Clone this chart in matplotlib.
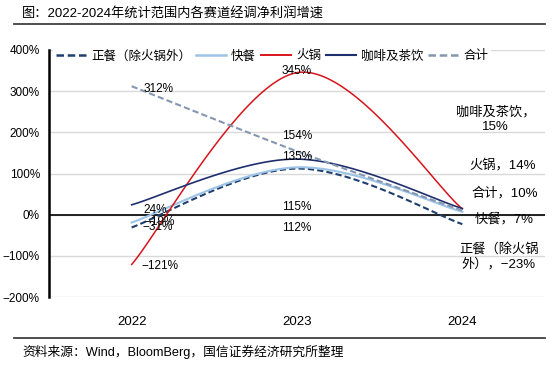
import numpy as np
import matplotlib.pyplot as plt
from matplotlib.lines import Line2D

plt.rcParams['font.family'] = ['Liberation Sans', 'Noto Sans CJK SC', 'DejaVu Sans']

years = ['2022', '2023', '2024']
series_names = ['正餐（除火锅外）', '快餐', '火锅', '咖啡及茶饮', '合计']
zhengcan = [-31, 112, -23]
kuaican = [-19, 115, 7]
huoguo = [-121, 345, 14]
kafei = [24, 135, 15]
heji = [312, 154, 10]
yticks = [-200, -100, 0, 100, 200, 300, 400]


def smooth(x, y, n=60):
    # Excel-like smoothed line: Catmull-Rom through the points as cubic Bezier
    pts = np.column_stack([x, y]).astype(float)
    ext = np.vstack([pts[0], pts, pts[-1]])
    out = []
    t = np.linspace(0, 1, n)[:, None]
    for i in range(len(pts) - 1):
        p0, p1, p2, p3 = ext[i], ext[i + 1], ext[i + 2], ext[i + 3]
        c1 = p1 + (p2 - p0) / 6
        c2 = p2 - (p3 - p1) / 6
        seg = ((1 - t) ** 3) * p1 + 3 * ((1 - t) ** 2) * t * c1 + 3 * (1 - t) * t ** 2 * c2 + t ** 3 * p2
        out.append(seg)
    out = np.vstack(out)
    return out[:, 0], out[:, 1]


fig = plt.figure(figsize=(5.54, 3.66), dpi=100)
ax = fig.add_axes([0.0884, 0.1885, 0.8954, 0.6749])

x = np.arange(len(years))
styles = [
    (zhengcan, '#1F3F6E', (0, (3, 1.5)), 1.5),
    (kuaican, '#9DC3E6', '-', 1.5),
    (huoguo, '#D7141C', '-', 1.1),
    (kafei, '#1F2F6E', '-', 1.2),
    (heji, '#8497B0', (0, (3, 1.5)), 1.5),
]
handles = []
for (vals, col, ls, lw), name in zip(styles, series_names):
    sx, sy = smooth(x, vals)
    ax.plot(sx, sy, color=col, linestyle=ls, linewidth=lw, zorder=3)
    handles.append(Line2D([], [], color=col, linestyle=ls, linewidth=lw + 0.3))

ax.set_xlim(-0.5, 2.5)
ax.set_ylim(-200, 400)
ax.set_yticks(yticks)
ax.set_yticklabels([f'{v}%'.replace('-', '\u2212') for v in yticks], fontsize=8.5)
ax.set_xticks(x)
ax.set_xticklabels(years, fontsize=9.5)
ax.tick_params(axis='y', length=0, pad=6.5)
ax.tick_params(axis='x', length=0, pad=14)
ax.grid(axis='y', color='#D9D9D9', linewidth=1)
ax.set_axisbelow(True)
ax.axhline(0, color='black', linewidth=1.2, zorder=2)
for s in ['top', 'right', 'bottom']:
    ax.spines[s].set_visible(False)
ax.spines['left'].set_linewidth(1.8)

# data labels
lab = dict(fontsize=8.5, ha='center', va='center', zorder=4)
ax.text(0.16, 312 - 6, '312%', **lab)
ax.text(0.14, 24 - 12, '24%', **lab)
ax.text(0.17, -19 + 2, '\u221219%', **lab)
ax.text(0.16, -31 + 2, '\u221231%', **lab)
ax.text(0.17, -121 - 3, '\u2212121%', **lab)
ax.text(1, 345 + 4, '345%', **lab)
ax.text(1, 154 + 38, '154%', **lab)
ax.text(1, 135 + 4, '135%', **lab)
ax.text(1, 115 - 97, '115%', **lab)
ax.text(1, 112 - 145, '112%', **lab)
rlab = dict(fontsize=9.5, ha='center', va='center', zorder=4, linespacing=1.3)
ax.text(2.2, 232, '咖啡及茶饮，\n15%', **rlab)
ax.text(2.245, 121, '火锅，14%', **rlab)
ax.text(2.255, 53, '合计，10%', **rlab)
ax.text(2.25, -10, '快餐，7%', **rlab)
ax.text(2.22, -102, '正餐（除火锅\n外），\u221223%', **rlab)

leg = ax.legend(handles, series_names, loc='upper center', bbox_to_anchor=(0.45, 1.035), ncol=5,
                fontsize=9, frameon=True, handlelength=2.4, columnspacing=0.4, handletextpad=0.4,
                borderpad=0.2)
leg.get_frame().set_facecolor('white')
leg.get_frame().set_edgecolor('none')
leg.get_frame().set_alpha(1)

fig.text(0.04, 0.963, '图：2022-2024年统计范围内各赛道经调净利润增速', fontsize=9.5, va='center')
fig.add_artist(Line2D([0.025, 0.984], [0.934, 0.934], color='#404040', linewidth=1.3))
fig.add_artist(Line2D([0.025, 0.984], [0.077, 0.077], color='#404040', linewidth=1.3))
fig.text(0.04, 0.038, '资料来源：Wind，BloomBerg，国信证券经济研究所整理', fontsize=9.2, va='center')

fig.savefig('out.png', dpi=100)
